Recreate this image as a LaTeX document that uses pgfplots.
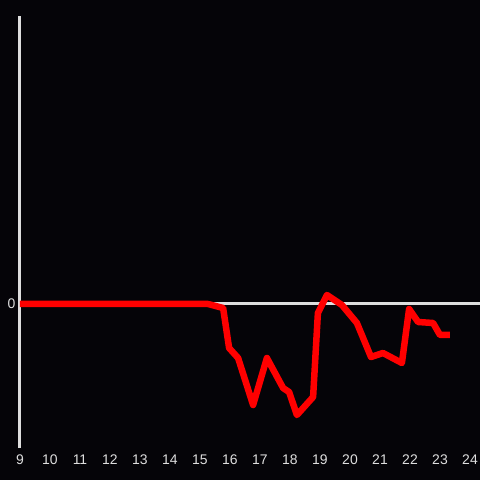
\documentclass[border=0pt]{standalone}
\usepackage{fontspec}
\setmainfont{Liberation Sans}
\usepackage{pgfplots}
\pgfplotsset{compat=1.18}
\definecolor{bg}{RGB}{5,4,8}
\definecolor{axgray}{RGB}{222,222,222}
\begin{document}
\begin{tikzpicture}
\fill[bg] (-20bp,-32bp) rectangle (460bp,448bp);
\useasboundingbox (-20bp,-32bp) rectangle (460bp,448bp);
\begin{axis}[
    scale only axis,
    width=460bp, height=432bp,
    xmin=9, xmax=24.3333,
    ymin=-144, ymax=288,
    axis x line=bottom, axis y line=left,
    x axis line style={draw=none},
    y axis line style={axgray, line width=3bp, -},
    xtick={9,...,24}, ytick={0},
    major tick length=0,
    tick label style={font=\fontsize{14}{16}\selectfont, text=axgray},
    xticklabel style={yshift=-3bp},
    yticklabel style={xshift=-1bp},
    /pgf/number format/assume math mode=true,
    clip=false,
]
\addplot[axgray, line width=3bp] coordinates {(9,0) (24.3333,0)};
\addplot[red, line width=6.5bp, line join=round] coordinates {
    (9,0) (15.27,0) (15.77,-4) (15.97,-44) (16.27,-54) (16.77,-101)
    (17.23,-54) (17.77,-84) (17.97,-88) (18.23,-111) (18.77,-93)
    (18.93,-9) (19.23,9) (19.73,-1) (20.23,-19) (20.7,-53) (21.1,-49)
    (21.73,-59) (21.97,-5) (22.27,-18) (22.77,-19) (23.0,-31) (23.33,-31)
};
\end{axis}
\end{tikzpicture}
\end{document}
